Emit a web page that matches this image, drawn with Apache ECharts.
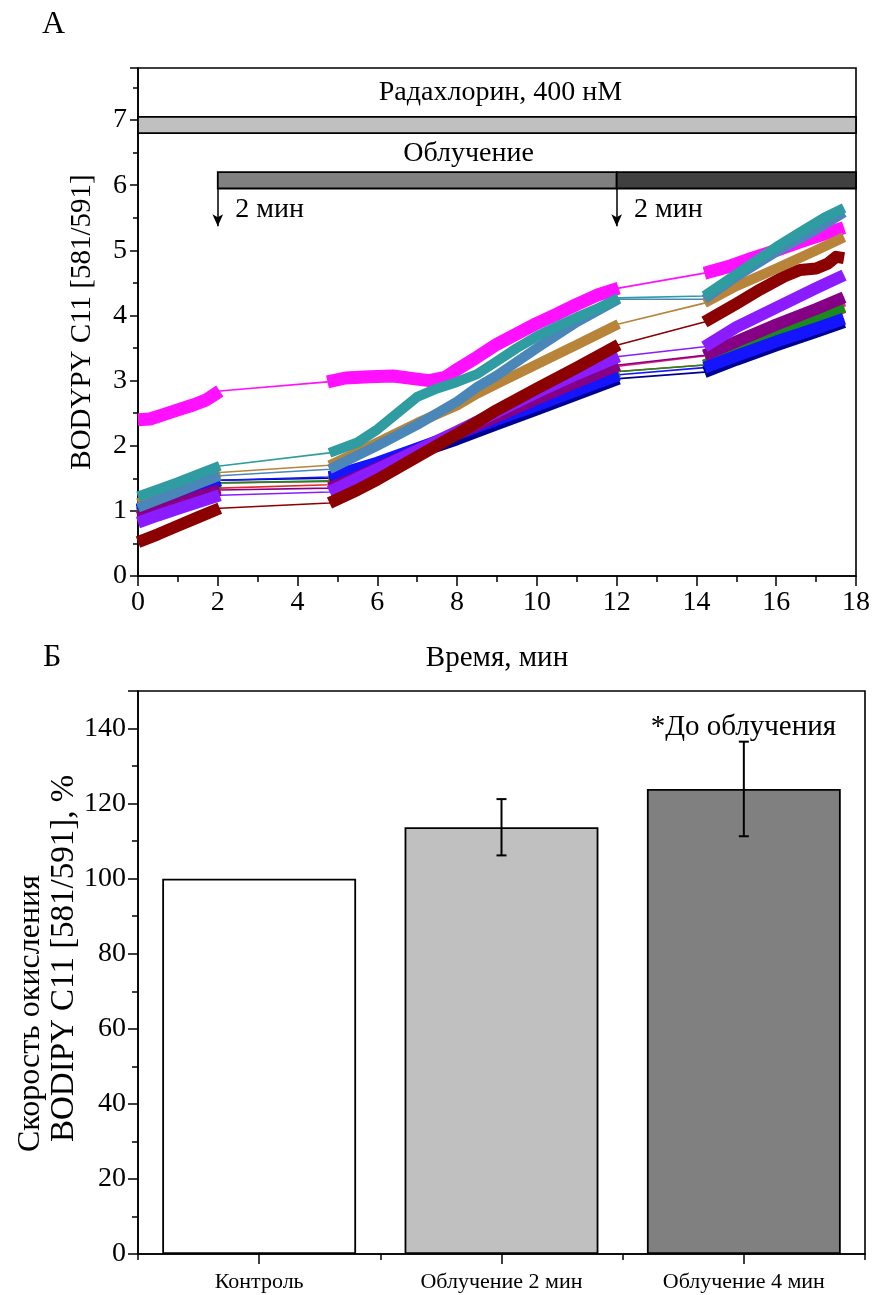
<!DOCTYPE html>
<html><head><meta charset="utf-8">
<script src="https://cdn.jsdelivr.net/npm/echarts@6/dist/echarts.min.js"></script>
<style>html,body{margin:0;padding:0;background:#fff}#c{width:874px;height:1295px}</style>
</head><body><div id="c"></div>
<script>
const FONT = '"Liberation Serif","Times New Roman",serif';

// ---------- Panel A: BODIPY C11 ratio vs time (null = recording gap) ----------
const sMagenta = [[0,2.40],[0.3,2.41],[0.6,2.47],[1.0,2.55],[1.4,2.63],[1.7,2.70],[1.9,2.78],[2.05,2.84], null,
  [4.75,2.98],[5.2,3.04],[5.8,3.06],[6.4,3.07],[6.9,3.03],[7.3,3.00],[7.7,3.05],[8.0,3.17],[8.5,3.36],[9.0,3.56],[9.5,3.72],[10.0,3.88],[10.5,4.02],[11.0,4.17],[11.5,4.31],[12.05,4.42], null,
  [14.2,4.65],[14.8,4.75],[15.4,4.88],[16.0,5.00],[16.6,5.13],[17.2,5.25],[17.7,5.35]];
const sTeal = [[0,1.22],[0.5,1.33],[1.0,1.44],[1.5,1.56],[2.05,1.69], null,
  [4.8,1.89],[5.5,2.05],[6.0,2.25],[6.5,2.50],[7.0,2.75],[7.5,2.88],[8.0,2.98],[8.5,3.10],[9.0,3.30],[9.5,3.50],[10.0,3.68],[10.5,3.83],[11.0,3.97],[11.5,4.10],[12.05,4.27], null,
  [14.2,4.30],[14.8,4.55],[15.4,4.80],[16.0,5.05],[16.6,5.28],[17.2,5.50],[17.7,5.65]];
const sSteel = [[0,1.05],[0.5,1.17],[1.0,1.29],[1.5,1.41],[2.05,1.54], null,
  [4.8,1.64],[5.5,1.85],[6.0,2.00],[7.0,2.32],[8.0,2.68],[8.5,2.90],[9.0,3.08],[10.0,3.50],[11.0,3.90],[12.05,4.25], null,
  [14.2,4.25],[15.0,4.60],[16.0,4.98],[17.0,5.32],[17.7,5.58]];
const sTan = [[0,1.12],[0.5,1.24],[1.0,1.35],[1.5,1.46],[2.05,1.59], null,
  [4.8,1.70],[5.5,1.90],[6.0,2.05],[7.0,2.35],[8.0,2.62],[8.5,2.80],[9.0,2.95],[10.0,3.25],[11.0,3.55],[12.05,3.87], null,
  [14.2,4.19],[15.0,4.45],[16.0,4.72],[17.0,5.00],[17.7,5.20]];
const sWine = [[0,0.52],[0.5,0.64],[1.0,0.77],[1.5,0.90],[2.05,1.04], null,
  [4.8,1.12],[5.5,1.32],[6.0,1.48],[7.0,1.83],[8.0,2.18],[9.0,2.55],[10.0,2.88],[11.0,3.20],[12.05,3.55], null,
  [14.2,3.90],[15.0,4.18],[15.6,4.40],[16.2,4.60],[16.6,4.70],[17.0,4.72],[17.3,4.80],[17.5,4.90],[17.7,4.88]];
const sViolet = [[0,0.82],[0.5,0.93],[1.0,1.03],[1.5,1.13],[2.05,1.24], null,
  [4.8,1.29],[5.5,1.50],[6.0,1.64],[7.0,1.93],[8.0,2.22],[9.0,2.52],[10.0,2.82],[11.0,3.10],[12.05,3.37], null,
  [14.2,3.52],[15.0,3.82],[16.0,4.12],[17.0,4.42],[17.7,4.62]];
const sPurple = [[0,0.90],[0.5,1.01],[1.0,1.11],[1.5,1.22],[2.05,1.32], null,
  [4.8,1.35],[5.5,1.52],[6.0,1.66],[7.0,1.93],[8.0,2.18],[9.0,2.45],[10.0,2.72],[11.0,2.98],[12.05,3.24], null,
  [14.2,3.39],[15.0,3.60],[16.0,3.86],[17.0,4.10],[17.7,4.28]];
const sGreen = [[0,0.97],[1.0,1.20],[2.05,1.43], null,
  [4.8,1.46],[6.0,1.72],[7.0,1.95],[8.0,2.17],[9.0,2.41],[10.0,2.64],[11.0,2.89],[12.05,3.14], null,
  [14.2,3.24],[15.0,3.46],[16.0,3.70],[17.0,3.95],[17.7,4.13]];
const sBlue = [[0,1.00],[1.0,1.23],[2.05,1.47], null,
  [4.8,1.52],[6.0,1.74],[7.0,1.96],[8.0,2.18],[9.0,2.40],[10.0,2.62],[11.0,2.85],[12.05,3.09], null,
  [14.2,3.20],[15.0,3.38],[16.0,3.60],[17.0,3.80],[17.7,3.95]];
const sNavy = [[0,1.02],[1.0,1.25],[2.05,1.47], null,
  [4.8,1.50],[6.0,1.68],[7.0,1.89],[8.0,2.10],[9.0,2.33],[10.0,2.56],[11.0,2.79],[12.05,3.03], null,
  [14.2,3.13],[15.0,3.32],[16.0,3.54],[17.0,3.75],[17.7,3.90]];
const sPink = [[0,0.97],[1.0,1.20],[2.05,1.43], null,
  [4.8,1.45],[6.0,1.70],[7.0,1.94],[8.0,2.17],[9.0,2.42],[10.0,2.66],[11.0,2.94],[12.05,3.22], null,
  [14.2,3.38],[15.0,3.58],[16.0,3.82],[17.0,4.05],[17.7,4.22]];
const sRed = [[0,0.92],[1.0,1.13],[2.05,1.35], null,
  [4.8,1.40],[6.0,1.66],[7.0,1.90],[8.0,2.14],[9.0,2.40],[10.0,2.64],[11.0,2.89],[12.05,3.14], null,
  [14.2,3.24],[15.0,3.46],[16.0,3.70],[17.0,3.94],[17.7,4.12]];

// annotation periods (minutes)
const radachlorinPeriod = [0, 18];
const irradiation1 = [2, 12];
const irradiation2 = [12, 18];

// ---------- Panel B: oxidation rate ----------
const barCategories = ['Контроль', 'Облучение 2 мин', 'Облучение 4 мин'];
const barValues = [100, 113.7, 123.9];
const barErrors = [0, 7.5, 12.6];
const barColors = ['#FFFFFF', '#C0C0C0', '#808080'];

const lineDefs = [
  [sPink, '#E8207A', 11], [sRed, '#E02828', 11], [sGreen, '#1A8A1A', 11], [sNavy, '#000090', 12],
  [sBlue, '#1414FF', 12], [sPurple, '#860086', 12], [sViolet, '#8A1CFF', 12], [sWine, '#8B0000', 12],
  [sMagenta, '#FF10FF', 13], [sTan, '#B8843A', 10], [sSteel, '#4A86B8', 10], [sTeal, '#2E9CA0', 10]
];

const series = [];
lineDefs.forEach(([d, c]) => {
  series.push({ type: 'line', xAxisIndex: 0, yAxisIndex: 0, data: d.filter(p => p),
    symbol: 'none', lineStyle: { color: c, width: 1.6 }, silent: true, z: 3 });
});
lineDefs.forEach(([d, c, w]) => {
  series.push({ type: 'line', xAxisIndex: 0, yAxisIndex: 0,
    data: d.map(p => p ? p : '-'), connectNulls: false,
    symbol: 'none', lineStyle: { color: c, width: w, join: 'round' }, silent: true, z: 3 });
});

const txt = (size) => ({ fontFamily: FONT, fontSize: size, color: '#000' });
const lbl = (size, align) => ({ show: true, position: [0, 0], formatter: p => p.name,
  ...txt(size), align: align || 'center', verticalAlign: 'middle', opacity: 1 });

series.push({
  type: 'scatter', xAxisIndex: 0, yAxisIndex: 0, symbolSize: 1, z: 6, silent: true,
  itemStyle: { opacity: 0 },
  data: [
    { name: 'Радахлорин, 400 нМ', value: [9.1, 7.42], label: lbl(28) },
    { name: 'Облучение', value: [8.3, 6.47], label: lbl(28) },
    { name: '2 мин', value: [2.45, 5.62], label: lbl(28, 'left') },
    { name: '2 мин', value: [12.45, 5.62], label: lbl(28, 'left') }
  ],
  markArea: {
    silent: true,
    data: [
      [{ coord: [radachlorinPeriod[0], 6.8], itemStyle: { color: '#C0C0C0', borderColor: '#000', borderWidth: 1.8 } }, { coord: [radachlorinPeriod[1], 7.05] }],
      [{ coord: [irradiation1[0], 5.95], itemStyle: { color: '#808080', borderColor: '#000', borderWidth: 1.8 } }, { coord: [irradiation1[1], 6.2] }],
      [{ coord: [irradiation2[0], 5.95], itemStyle: { color: '#404040', borderColor: '#000', borderWidth: 1.8 } }, { coord: [irradiation2[1], 6.2] }]
    ]
  },
  markLine: {
    silent: true, symbol: ['none', 'arrow'], symbolSize: [8, 12],
    lineStyle: { color: '#000', width: 1.5, type: 'solid' }, label: { show: false },
    data: [
      [{ coord: [irradiation1[0], 5.95] }, { coord: [irradiation1[0], 5.37] }],
      [{ coord: [irradiation2[0], 5.95] }, { coord: [irradiation2[0], 5.37] }]
    ]
  }
});

series.push({
  type: 'bar', xAxisIndex: 1, yAxisIndex: 1, barWidth: '80%',
  data: barValues.map((v, i) => ({ value: v, itemStyle: { color: barColors[i], borderColor: '#000', borderWidth: 1.8 } })),
  silent: true, z: 2
});
series.push({
  type: 'custom', xAxisIndex: 1, yAxisIndex: 1, z: 5, silent: true,
  data: barValues.map((v, i) => [i, v - barErrors[i], v + barErrors[i]]).filter((d, i) => barErrors[i] > 0),
  renderItem: (params, api) => {
    const lo = api.coord([api.value(0), api.value(1)]);
    const hi = api.coord([api.value(0), api.value(2)]);
    const w = 5, st = { stroke: '#000', lineWidth: 2 };
    return { type: 'group', children: [
      { type: 'line', shape: { x1: lo[0], y1: lo[1], x2: hi[0], y2: hi[1] }, style: st },
      { type: 'line', shape: { x1: lo[0] - w, y1: lo[1], x2: lo[0] + w, y2: lo[1] }, style: st },
      { type: 'line', shape: { x1: hi[0] - w, y1: hi[1], x2: hi[0] + w, y2: hi[1] }, style: st }
    ]};
  }
});
series.push({
  type: 'scatter', xAxisIndex: 1, yAxisIndex: 1, symbolSize: 1, z: 6, silent: true,
  itemStyle: { opacity: 0 },
  data: [{ name: '*До облучения', value: [2, 140.3], label: lbl(29) }]
});

const axisLine = { show: true, lineStyle: { color: '#000', width: 1.6 } };
const option = {
  animation: false,
  backgroundColor: '#fff',
  graphic: [
    { type: 'text', left: 42, top: 9, style: { text: 'A', font: '32px ' + FONT, fill: '#000' } },
    { type: 'text', left: 43, top: 642, style: { text: 'Б', font: '32px ' + FONT, fill: '#000' } },
    { type: 'text', x: 31, y: 1152, rotation: Math.PI / 2,
      style: { text: 'Скорость окисления', font: '32px ' + FONT, fill: '#000', textAlign: 'left', textVerticalAlign: 'middle' } },
    { type: 'text', x: 64, y: 1142, rotation: Math.PI / 2,
      style: { text: 'BODIPY C11 [581/591], %', font: '33px ' + FONT, fill: '#000', textAlign: 'left', textVerticalAlign: 'middle' } }
  ],
  grid: [
    { left: 138, top: 68, width: 718, height: 508, show: true, borderColor: '#000', borderWidth: 1.6, backgroundColor: 'transparent' },
    { left: 138, top: 691, width: 727, height: 563, show: true, borderColor: '#000', borderWidth: 1.6, backgroundColor: 'transparent' }
  ],
  xAxis: [
    { type: 'value', gridIndex: 0, min: 0, max: 18, interval: 2, position: 'bottom',
      name: 'Время, мин', nameLocation: 'middle', nameGap: 68, nameTextStyle: txt(29),
      axisLine, axisTick: { show: true, inside: false, length: 10, lineStyle: { color: '#000', width: 1.5 } },
      minorTick: { show: true, splitNumber: 2, length: 6, lineStyle: { color: '#000', width: 1.5 } },
      axisLabel: { ...txt(28), margin: 13 }, splitLine: { show: false } },
    { type: 'category', gridIndex: 1, data: barCategories, position: 'bottom',
      axisLine, axisTick: { show: true, alignWithLabel: true, length: 10, lineStyle: { color: '#000', width: 1.5 } },
      axisLabel: { ...txt(22), margin: 17 }, splitLine: { show: false } },
    { type: 'category', gridIndex: 1, data: barCategories, position: 'bottom',
      axisLine: { show: false }, axisTick: { show: true, alignWithLabel: false, length: 6, lineStyle: { color: '#000', width: 1.5 } },
      axisLabel: { show: false }, splitLine: { show: false } }
  ],
  yAxis: [
    { type: 'value', gridIndex: 0, min: 0, max: 7.8, interval: 1,
      name: 'BODYPY C11 [581/591]', nameLocation: 'middle', nameGap: 41, nameTextStyle: txt(29),
      axisLine, axisTick: { show: true, inside: false, length: 8, lineStyle: { color: '#000', width: 1.5 } },
      minorTick: { show: true, splitNumber: 2, length: 5, lineStyle: { color: '#000', width: 1.5 } },
      axisLabel: { ...txt(28), margin: 11, showMaxLabel: false }, splitLine: { show: false } },
    { type: 'value', gridIndex: 1, min: 0, max: 150, interval: 20,
      axisLine, axisTick: { show: true, inside: false, length: 10, lineStyle: { color: '#000', width: 1.5 } },
      minorTick: { show: true, splitNumber: 2, length: 6, lineStyle: { color: '#000', width: 1.5 } },
      axisLabel: { ...txt(28), margin: 12, showMaxLabel: false }, splitLine: { show: false } }
  ],
  series
};
const chart = echarts.init(document.getElementById('c'), null, { renderer: 'canvas' });
chart.setOption(option);
</script></body></html>
